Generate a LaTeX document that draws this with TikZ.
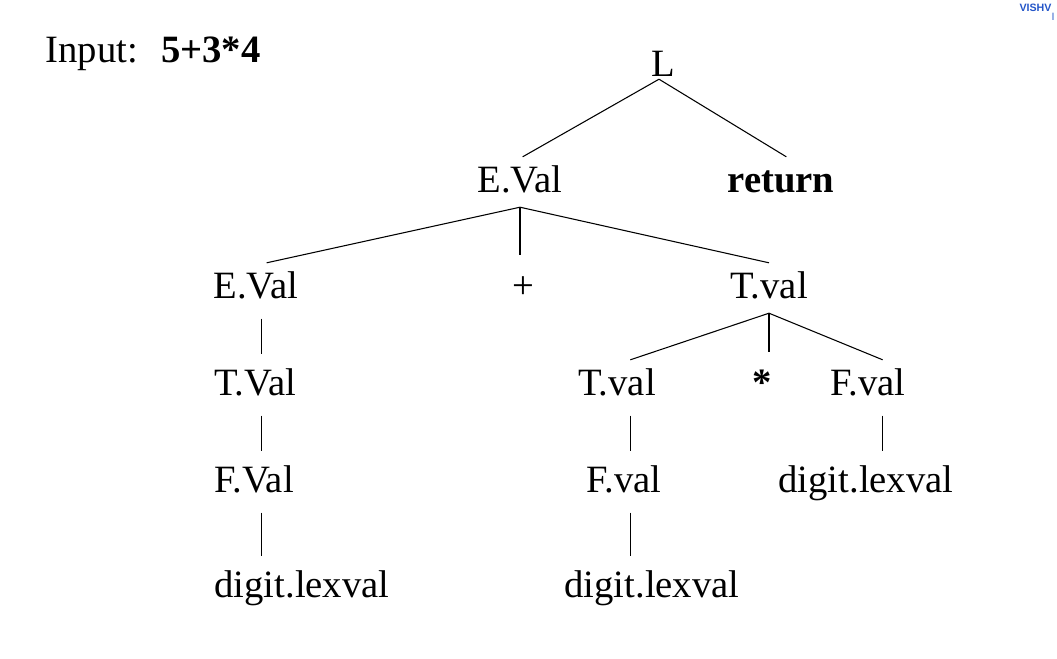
\documentclass[tikz,border=0pt]{standalone}
\usepackage{fontspec}
\setmainfont{Liberation Serif}
\newfontfamily\logofont{Liberation Sans}
\definecolor{logoblue}{RGB}{35,85,200}
\tikzset{
  sym/.style={inner xsep=0pt, inner ysep=7pt, anchor=base, text height=19pt, text depth=4pt,
    font=\fontsize{29}{34}\selectfont},
  vlink/.style={shorten <=4pt, shorten >=4pt},
  logo/.style={inner sep=0pt, anchor=base west, text=logoblue, font=\logofont\bfseries\fontsize{8}{9}\selectfont},
}
\begin{document}
\begin{tikzpicture}[x=0.75pt, y=-0.75pt, line width=0.8pt]
\useasboundingbox (0,0) rectangle (1057,658);

% Watermark
\node[logo] (logoA) at (1019,11) {VISHV};
\node[logo, text=logoblue!60] (logoB) at (1051,20) {I};

% Input string
\node[sym, anchor=base west] (input) at (45,62) {Input:\hspace{0.6em}\textbf{5+3*4}};

% Tree nodes
\node[sym, inner ysep=2pt, text depth=0pt] (L) at (663,76) {L};
\node[sym] (ev) at (520,192) {E.Val};
\node[sym] (ret) at (781,192) {\textbf{return}};
\node[sym] (el) at (256,298) {E.Val};
\node[sym] (plus) at (523,298) {+};
\node[sym] (tv) at (769,298) {T.val};
\node[sym] (tl) at (255,395) {T.Val};
\node[sym] (tm) at (617,395) {T.val};
\node[sym] (star) at (762,395) {\textbf{*}};
\node[sym] (fr) at (868,395) {F.val};
\node[sym] (fl) at (254,492) {F.Val};
\node[sym] (fm) at (624,492) {F.val};
\node[sym] (dr) at (866,492) {digit.lexval};
\node[sym] (dl) at (302,597) {digit.lexval};
\node[sym] (dm) at (652,597) {digit.lexval};

% Edges
\draw ([xshift=-3pt]L.south) -- ([xshift=2pt]ev.north);
\draw ([xshift=-3pt]L.south) -- ([xshift=4pt]ret.north);
\draw (ev.south) -- ([xshift=8pt]el.north);
\draw[shorten >=6pt] (ev.south) -- (ev.south |- plus.north);
\draw (ev.south) -- (tv.north);
\draw (tv.south) -- ([xshift=10pt]tm.north);
\draw[shorten >=6pt] (tv.south) -- (tv.south |- star.north);
\draw (tv.south) -- ([xshift=11pt]fr.north);

% Chains
\draw[vlink] ([xshift=4pt]el.south) -- ([xshift=4pt]el.south |- tl.north);
\draw[vlink] ([xshift=4pt]el.south |- tl.south) -- ([xshift=4pt]el.south |- fl.north);
\draw[vlink] ([xshift=4pt]el.south |- fl.south) -- ([xshift=4pt]el.south |- dl.north);
\draw[vlink] ([xshift=10pt]tm.south) -- ([xshift=10pt]tm.south |- fm.north);
\draw[vlink] ([xshift=10pt]tm.south |- fm.south) -- ([xshift=10pt]tm.south |- dm.north);
\draw[vlink] ([xshift=11pt]fr.south) -- ([xshift=11pt]fr.south |- dr.north);

\end{tikzpicture}
\end{document}
